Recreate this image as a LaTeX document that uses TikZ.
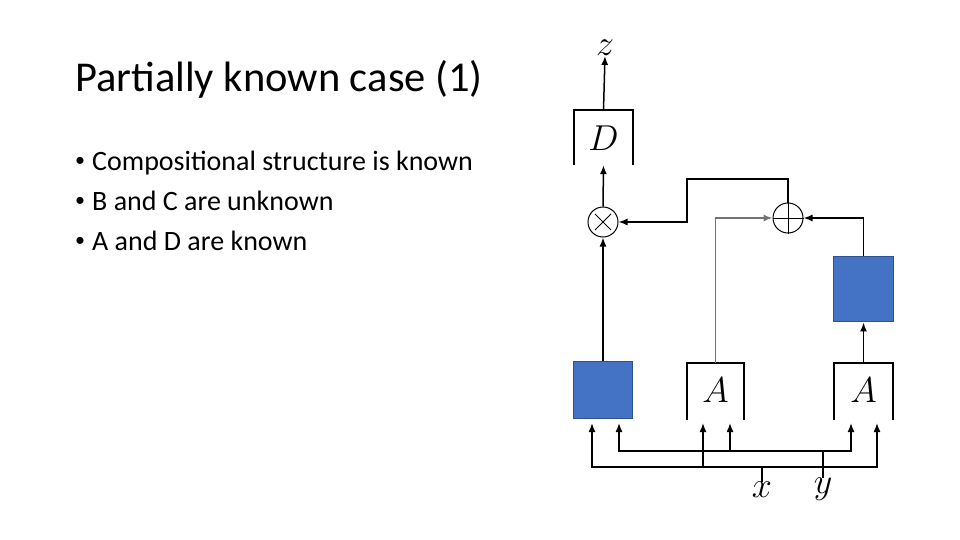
\RequirePackage{fix-cm}
\documentclass[tikz,border=0pt]{standalone}
\usepackage{fontspec}
\setmainfont{Carlito}
\usetikzlibrary{arrows.meta,calc}
\definecolor{boxblue}{HTML}{4472C4}
\definecolor{boxedge}{HTML}{2F528F}
\tikzset{
  conn/.style={line width=1.5pt, black},
  arr/.style={conn, -{Latex[length=9pt,width=7pt]}},
  grayconn/.style={line width=1.5pt, black!55},
  bluebox/.style={draw=boxedge, line width=1.8pt, fill=boxblue, inner sep=0pt},
  openbox/.style={inner sep=0pt},
  opencut/.style={line width=1.5pt, black},
  mathlbl/.style={inner sep=0pt, font=\fontsize{36}{42}\selectfont},
  op/.style={circle, draw, line width=1pt, minimum size=30pt, inner sep=0pt},
  titletxt/.style={anchor=base west, inner sep=0pt, font=\fontsize{42.5}{50}\selectfont},
  bullettxt/.style={anchor=base west, inner sep=0pt, font=\fontsize{28}{34}\selectfont},
  bulletdot/.style={anchor=base west, inner sep=0pt, font=\fontsize{20}{24}\selectfont},
}
\begin{document}
\begin{tikzpicture}[x=1pt,y=-1pt]
\useasboundingbox (0,0) rectangle (960,540);
% text
\node[titletxt] (title) at (75,92) {Partially known case (1)};
\node[bulletdot] (b1) at (75,167) {•};
\node[bullettxt] (t1) at (92,171) {Compositional structure is known};
\node[bulletdot] (b2) at (75,206) {•};
\node[bullettxt] (t2) at (92,210) {B and C are unknown};
\node[bulletdot] (b3) at (75,246) {•};
\node[bullettxt] (t3) at (92,250) {A and D are known};
% boxes
\node[openbox, minimum width=59pt, minimum height=55pt] (D) at (603.5,137.5) {};
\draw[opencut] (D.south west) -- (D.north west) -- (D.north east) -- (D.south east);
\node[mathlbl] (Dl) at (603.5,138) {$D$};
\node[openbox, minimum width=57pt, minimum height=57pt] (A1) at (715.5,391.5) {};
\draw[opencut] (A1.south west) -- (A1.north west) -- (A1.north east) -- (A1.south east);
\node[mathlbl] (A1l) at (715.5,390) {$A$};
\node[openbox, minimum width=59pt, minimum height=57pt] (A2) at (863.5,391.5) {};
\draw[opencut] (A2.south west) -- (A2.north west) -- (A2.north east) -- (A2.south east);
\node[mathlbl] (A2l) at (863.5,390) {$A$};
\node[bluebox, minimum width=59pt, minimum height=57pt] (B) at (603,390) {};
\node[bluebox, minimum width=60pt, minimum height=65pt] (C) at (863.5,289) {};
% operators
\node[op] (mul) at (603,222) {};
\draw[line width=1pt] ($(mul.center)+(-8,-8)$) -- ($(mul.center)+(8,8)$);
\draw[line width=1pt] ($(mul.center)+(-8,8)$) -- ($(mul.center)+(8,-8)$);
\node[op] (add) at (788,218) {};
\draw[line width=1pt] (add.north) -- (add.south);
\draw[line width=1pt] (add.west) -- (add.east);
% labels
\node[mathlbl] (z) at (605,48) {$z$};
\node[mathlbl] (xl) at (762,490) {$x$};
\node[mathlbl] (yl) at (823,489) {$y$};
% connectors
\draw[arr] (D.north) -- (z.south);
\draw[arr] (mul.north) -- (D.south);
\draw[arr] (B.north) -- (mul.south);
\coordinate (fb) at (687,179);
\draw[arr] (add.north) |- (fb) |- (mul.east);
\draw[grayconn, -{Latex[length=9pt,width=7pt]}] (A1.north) |- (add.west);
\draw[arr] (C.north) |- (add.east);
\draw[arr] (A2.north) -- (C.south);
% input buses
\coordinate (xb) at (762,467);
\coordinate (yb) at (823,451);
\coordinate (bx) at (592,423);
\coordinate (by) at (619,423);
\coordinate (a1x) at (703,423);
\coordinate (a1y) at (730,423);
\coordinate (a2y) at (851,423);
\coordinate (a2x) at (877,423);
\draw[conn] (xl.north) -- (xb);
\draw[conn] (yl.north) -- (yb);
\draw[arr] (xb) -| (bx);
\draw[arr] (xb) -| (a2x);
\draw[arr] (xb -| a1x) -- (a1x);
\draw[arr] (yb) -| (by);
\draw[arr] (yb) -| (a2y);
\draw[arr] (yb -| a1y) -- (a1y);
\end{tikzpicture}
\end{document}
